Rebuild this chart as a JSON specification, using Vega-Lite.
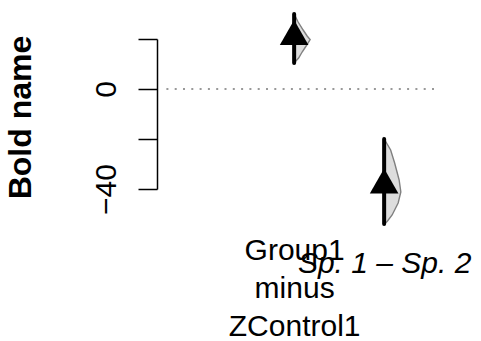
{
  "$schema": "https://vega.github.io/schema/vega-lite/v6.json",
  "width": 270,
  "height": 150,
  "autosize": {"type": "none"},
  "padding": {"left": 164, "top": 39, "right": 47, "bottom": 152},
  "background": "white",
  "config": {"font": "Liberation Sans", "view": {"stroke": null}},
  "datasets": {
    "ref": [{"y": 0}],
    "summary": [
      {"comp": "Group1\nminus\nZControl1", "mean": 22.6, "lo": 10.4, "hi": 30.0},
      {"comp": "Sp. 1 – Sp. 2", "mean": -36.8, "lo": -54.0, "hi": -20.0}
    ],
    "violin": [
      {"comp": "Group1\nminus\nZControl1", "y": 30.0, "w": 0},
      {"comp": "Group1\nminus\nZControl1", "y": 26.8, "w": 4},
      {"comp": "Group1\nminus\nZControl1", "y": 23.6, "w": 9},
      {"comp": "Group1\nminus\nZControl1", "y": 21.2, "w": 13},
      {"comp": "Group1\nminus\nZControl1", "y": 19.8, "w": 16},
      {"comp": "Group1\nminus\nZControl1", "y": 17.2, "w": 12},
      {"comp": "Group1\nminus\nZControl1", "y": 14.8, "w": 8},
      {"comp": "Group1\nminus\nZControl1", "y": 12.4, "w": 4.5},
      {"comp": "Group1\nminus\nZControl1", "y": 10.4, "w": 0},
      {"comp": "Sp. 1 – Sp. 2", "y": -20.0, "w": 0},
      {"comp": "Sp. 1 – Sp. 2", "y": -22.0, "w": 3},
      {"comp": "Sp. 1 – Sp. 2", "y": -24.4, "w": 6.5},
      {"comp": "Sp. 1 – Sp. 2", "y": -29.6, "w": 10.5},
      {"comp": "Sp. 1 – Sp. 2", "y": -36.4, "w": 15},
      {"comp": "Sp. 1 – Sp. 2", "y": -41.2, "w": 16.7},
      {"comp": "Sp. 1 – Sp. 2", "y": -45.6, "w": 14},
      {"comp": "Sp. 1 – Sp. 2", "y": -50.4, "w": 8},
      {"comp": "Sp. 1 – Sp. 2", "y": -53.0, "w": 3},
      {"comp": "Sp. 1 – Sp. 2", "y": -54.0, "w": 0}
    ]
  },
  "layer": [
    {
      "data": {"name": "ref"},
      "mark": {"type": "rule", "color": "#999999", "strokeWidth": 2, "strokeDash": [2, 6.3]},
      "encoding": {
        "y": {"field": "y", "type": "quantitative",
          "scale": {"domain": [-40, 20], "nice": false, "zero": false},
          "axis": {"title": "Bold name", "values": [-40, -20, 0, 20], "labelExpr": "datum.value == 0 || datum.value == -40 ? datum.label : ''", "offset": 7, "tickSize": 19, "tickWidth": 1.5, "tickColor": "black", "domainColor": "black", "domainWidth": 1.5, "labelFontSize": 30, "labelAngle": -90, "labelAlign": "center", "labelBaseline": "alphabetic", "labelPadding": 23, "labelColor": "black", "labelOverlap": false, "labelFlush": false, "grid": false, "titleFontSize": 32, "titleFontWeight": "bold", "titleColor": "black", "titleAngle": -90, "titleAlign": "center", "titleBaseline": "alphabetic", "titleX": -127, "titleY": 78}
        }
      }
    },
    {
      "data": {"name": "violin"},
      "mark": {"type": "area", "orient": "horizontal", "fill": "#dddddd", "stroke": "#808080", "strokeWidth": 1.4},
      "encoding": {
        "y": {"field": "y", "type": "quantitative", "stack": null, "scale": {"domain": [-40, 20], "nice": false, "zero": false}},
        "x": {"field": "comp", "type": "nominal", "sort": null,
          "scale": {"type": "point", "domain": ["Group1\nminus\nZControl1", "Sp. 1 – Sp. 2"], "padding": 1.07, "align": 0.723}},
        "x2": {"field": "comp"},
        "xOffset": {"field": "w", "type": "quantitative", "scale": {"domain": [0, 20], "range": [0, 20]}},
        "detail": {"field": "comp"}
      }
    },
    {
      "data": {"name": "summary"},
      "mark": {"type": "rule", "color": "black", "strokeWidth": 4, "strokeCap": "round"},
      "encoding": {
        "y": {"field": "lo", "type": "quantitative", "scale": {"domain": [-40, 20], "nice": false, "zero": false}},
        "y2": {"field": "hi"},
        "x": {"field": "comp", "type": "nominal", "sort": null,
          "scale": {"type": "point", "domain": ["Group1\nminus\nZControl1", "Sp. 1 – Sp. 2"], "padding": 1.07, "align": 0.723},
          "axis": {"title": null, "domain": false, "ticks": false, "tickSize": 0, "grid": false, "labelAngle": 0, "labelFontSize": 30, "labelLineHeight": 38, "labelBaseline": "alphabetic", "labelAlign": "center", "labelColor": "black", "labelLimit": 0, "labelOverlap": false, "labelExpr": "split(datum.label, '\\n')",
            "labelFontStyle": {"condition": {"test": "indexof(datum.value, 'Sp.') >= 0", "value": "italic"}, "value": "normal"},
            "labelPadding": {"condition": {"test": "indexof(datum.value, 'Sp.') >= 0", "value": 83}, "value": 70}}
        }
      }
    },
    {
      "data": {"name": "summary"},
      "mark": {"type": "point", "shape": "triangle-up", "filled": true, "color": "black", "opacity": 1, "size": 820},
      "encoding": {
        "y": {"field": "mean", "type": "quantitative", "scale": {"domain": [-40, 20], "nice": false, "zero": false}},
        "x": {"field": "comp", "type": "nominal", "sort": null,
          "scale": {"type": "point", "domain": ["Group1\nminus\nZControl1", "Sp. 1 – Sp. 2"], "padding": 1.07, "align": 0.723}}
      }
    }
  ]
}
